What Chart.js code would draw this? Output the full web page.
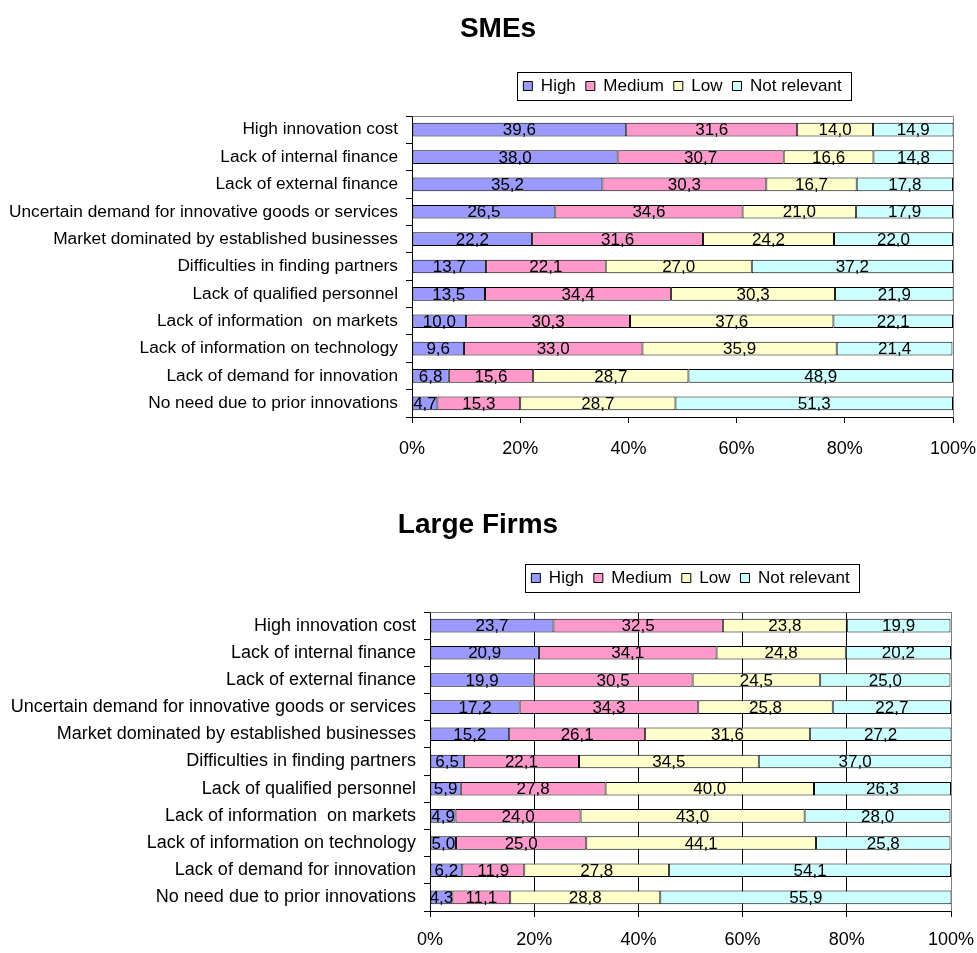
<!DOCTYPE html>
<html><head><meta charset="utf-8">
<script src="https://cdn.jsdelivr.net/npm/chart.js@4.4.0/dist/chart.umd.min.js"></script>
<style>
html,body{margin:0;padding:0;background:#fff;}
#wrap{position:relative;width:977px;height:953px;background:#fff;}
canvas{position:absolute;left:0;}
</style></head><body>
<div id="wrap">
<canvas id="c1" width="977" height="476" style="top:0px"></canvas>
<canvas id="c2" width="977" height="477" style="top:476px"></canvas>
</div>
<script>
// ---- data ----
const categories = [
  "High innovation cost",
  "Lack of internal finance",
  "Lack of external finance",
  "Uncertain demand for innovative goods or services",
  "Market dominated by established businesses",
  "Difficulties in finding partners",
  "Lack of qualified personnel",
  "Lack of information  on markets",
  "Lack of information on technology",
  "Lack of demand for innovation",
  "No need due to prior innovations"
];
const seriesNames = ["High", "Medium", "Low", "Not relevant"];
const xTickValues = [0, 20, 40, 60, 80, 100];
const xTickLabels = ["0%", "20%", "40%", "60%", "80%", "100%"];

const smeTitle = "SMEs";
const smeHigh     = [39.6, 38.0, 35.2, 26.5, 22.2, 13.7, 13.5, 10.0, 9.6, 6.8, 4.7];
const smeMedium   = [31.6, 30.7, 30.3, 34.6, 31.6, 22.1, 34.4, 30.3, 33.0, 15.6, 15.3];
const smeLow      = [14.0, 16.6, 16.7, 21.0, 24.2, 27.0, 30.3, 37.6, 35.9, 28.7, 28.7];
const smeNotRel   = [14.9, 14.8, 17.8, 17.9, 22.0, 37.2, 21.9, 22.1, 21.4, 48.9, 51.3];

const largeTitle = "Large Firms";
const largeHigh   = [23.7, 20.9, 19.9, 17.2, 15.2, 6.5, 5.9, 4.9, 5.0, 6.2, 4.3];
const largeMedium = [32.5, 34.1, 30.5, 34.3, 26.1, 22.1, 27.8, 24.0, 25.0, 11.9, 11.1];
const largeLow    = [23.8, 24.8, 24.5, 25.8, 31.6, 34.5, 40.0, 43.0, 44.1, 27.8, 28.8];
const largeNotRel = [19.9, 20.2, 25.0, 22.7, 27.2, 37.0, 26.3, 28.0, 25.8, 54.1, 55.9];

// ---- styles ----
const FONT = "'Liberation Sans', Arial, Helvetica, sans-serif";
const fills = ["#9999FF", "#FF99CC", "#FFFFCC", "#CCFFFF"];

// ---- plugins ----
const mainTitle = {
  id: 'mainTitle',
  afterDraw(chart) {
    const o = chart.options.plugins.mainTitle;
    if (!o) return;
    const ctx = chart.ctx;
    ctx.save();
    ctx.font = o.font;
    ctx.fillStyle = '#000';
    ctx.textAlign = 'center';
    ctx.textBaseline = 'middle';
    ctx.fillText(o.text, o.x, o.y);
    ctx.restore();
  }
};
const legendFrame = {
  id: 'legendFrame',
  afterDraw(chart) {
    const o = chart.options.plugins.legendFrame;
    const hb = chart.legend && chart.legend.legendHitBoxes;
    if (!o || !hb || !hb.length) return;
    const l = Math.min(...hb.map(h => h.left)) - o.padL;
    const r = Math.max(...hb.map(h => h.left + h.width)) + o.padR;
    const cy = hb[0].top + hb[0].height / 2;
    const ctx = chart.ctx;
    ctx.save();
    ctx.strokeStyle = '#000';
    ctx.lineWidth = 1;
    ctx.strokeRect(Math.round(l) + 0.5, Math.round(cy - o.halfH) + 0.5, Math.round(r - l), Math.round(2 * o.halfH));
    ctx.restore();
  }
};
const plotFrame = {
  id: 'plotFrame',
  beforeDatasetsDraw(chart) {
    const a = chart.chartArea;
    const ctx = chart.ctx;
    ctx.save();
    ctx.strokeStyle = '#808080';
    ctx.lineWidth = 1;
    ctx.beginPath();
    ctx.moveTo(Math.round(a.left) + 0.5, Math.round(a.top) + 0.5);
    ctx.lineTo(Math.round(a.right) + 0.5, Math.round(a.top) + 0.5);
    ctx.lineTo(Math.round(a.right) + 0.5, Math.round(a.bottom) + 0.5);
    ctx.stroke();
    ctx.restore();
  }
};
const valueLabels = {
  id: 'valueLabels',
  afterDatasetsDraw(chart) {
    const o = chart.options.plugins.valueLabels;
    const ctx = chart.ctx;
    ctx.save();
    ctx.font = o.font;
    ctx.fillStyle = '#000';
    ctx.textAlign = 'center';
    ctx.textBaseline = 'middle';
    chart.data.datasets.forEach((ds, di) => {
      const meta = chart.getDatasetMeta(di);
      meta.data.forEach((el, i) => {
        const v = ds.data[i];
        const x = (el.x + el.base) / 2;
        ctx.fillText(v.toFixed(1).replace('.', ','), x, el.y + o.dy);
      });
    });
    ctx.restore();
  }
};

function makeChart(id, cfg) {
  const datasets = cfg.series.map((d, i) => ({
    label: seriesNames[i],
    data: d,
    backgroundColor: fills[i],
    borderColor: '#000',
    borderWidth: 1,
    borderSkipped: false,
    barPercentage: 0.5,
    categoryPercentage: 1.0
  }));
  return new Chart(document.getElementById(id), {
    type: 'bar',
    data: { labels: categories, datasets },
    plugins: [mainTitle, legendFrame, plotFrame, valueLabels],
    options: {
      indexAxis: 'y',
      responsive: false,
      animation: false,
      devicePixelRatio: 1,
      layout: { padding: { top: cfg.padTop, right: cfg.padRight, bottom: 0, left: 0 } },
      scales: {
        x: {
          stacked: true,
          min: 0, max: 100,
          afterBuildTicks: s => { s.ticks = xTickValues.map(v => ({ value: v })); },
          afterFit: s => { s.height = cfg.xHeight; s.paddingLeft = 0; s.paddingRight = 0; },
          ticks: {
            autoSkip: false,
            maxRotation: 0,
            color: '#000',
            padding: cfg.xPad,
            font: { family: FONT, size: 18 },
            callback: (v) => xTickLabels[xTickValues.indexOf(v)]
          },
          grid: {
            display: true,
            drawOnChartArea: cfg.gridOnArea,
            color: ctx => (ctx.tick && ctx.tick.value === 100) ? '#808080' : '#000',
            tickColor: '#000',
            tickLength: 6,
            lineWidth: 1
          },
          border: { display: true, color: '#000', width: 1 }
        },
        y: {
          stacked: true,
          afterFit: s => { s.width = cfg.yWidth; },
          ticks: {
            color: '#000',
            padding: 8,
            autoSkip: false,
            font: { family: FONT, size: cfg.catFont }
          },
          grid: {
            display: true,
            offset: true,
            drawOnChartArea: false,
            tickColor: '#000',
            tickLength: 6
          },
          border: { display: true, color: '#000', width: 1 }
        }
      },
      plugins: {
        title: { display: false },
        subtitle: {
          display: true, text: '', position: 'top', fullSize: false, weight: 500,
          padding: 0, font: { size: cfg.spacer, lineHeight: 1 }
        },
        legend: {
          display: true,
          position: 'top',
          fullSize: false,
          align: 'center',
          labels: {
            boxWidth: 9, boxHeight: 9,
            padding: 10,
            color: '#000',
            font: { family: FONT, size: 17 }
          }
        },
        tooltip: { enabled: false },
        mainTitle: { text: cfg.title, x: cfg.titleX, y: cfg.titleY, font: "bold 28px " + FONT },
        legendFrame: { padL: 6, padR: 10, halfH: 14 },
        valueLabels: { font: "17px " + FONT, dy: 1 }
      }
    }
  });
}

makeChart('c1', {
  title: smeTitle, titleX: 498, titleY: 29,
  series: [smeHigh, smeMedium, smeLow, smeNotRel],
  padTop: 67.5, spacer: 11.5, padRight: 24,
  yWidth: 412, xHeight: 59, xPad: 15, catFont: 17.3, gridOnArea: false
});
makeChart('c2', {
  title: largeTitle, titleX: 478, titleY: 49,
  series: [largeHigh, largeMedium, largeLow, largeNotRel],
  padTop: 83.5, spacer: 15.5, padRight: 26,
  yWidth: 430, xHeight: 42, xPad: 12, catFont: 18, gridOnArea: true
});
</script>
</body></html>
